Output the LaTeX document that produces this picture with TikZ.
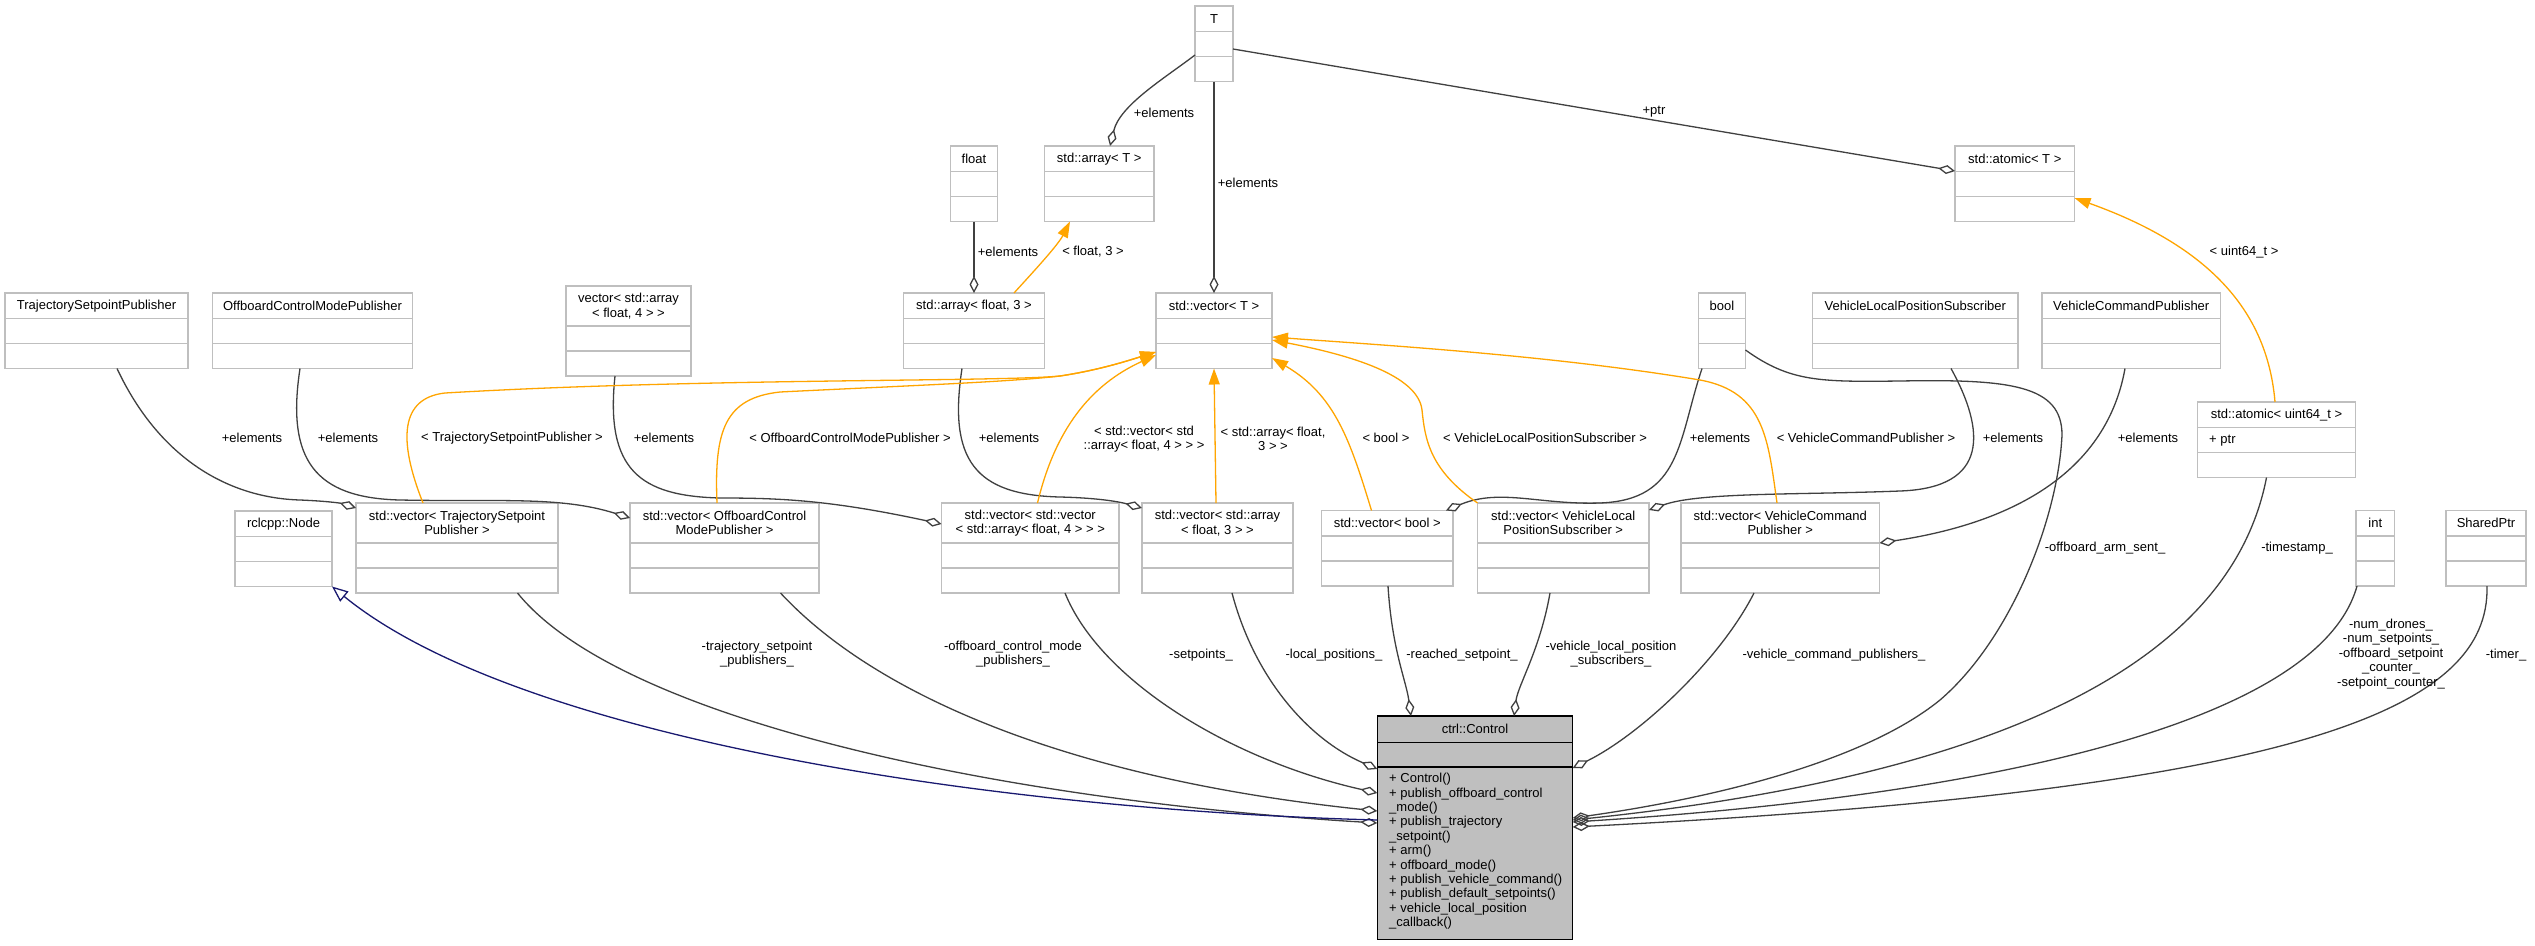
\documentclass[tikz,border=0pt]{standalone}
\usepackage{fontspec}
\setmainfont{Liberation Sans}
\usetikzlibrary{arrows.meta,fit,calc}
\definecolor{boxgray}{RGB}{191,191,191}
\definecolor{edgegray}{RGB}{64,64,64}
\definecolor{tmplorange}{RGB}{255,165,0}
\definecolor{inhblue}{RGB}{25,25,112}
\tikzset{
  clsbox/.style={draw=boxgray, line width=1.5pt, fill=white, inner sep=0pt, outer sep=0pt},
  clssep/.style={draw=boxgray, line width=1.5pt},
  clstext/.style={inner sep=0pt, align=center},
  lbl/.style={inner sep=0pt, align=center},
  agg/.style={draw=edgegray, line width=1.3pt, -{Diamond[open, length=17pt, width=9pt]}},
  tmpl/.style={draw=tmplorange, line width=1.3pt, -{Triangle[length=16pt, width=11pt]}},
  inh/.style={draw=inhblue, line width=1.3pt, -{Triangle[open, length=16pt, width=13pt]}},
}
% #1 name, #2 x1, #3 y1, #4 x2, #5 title row height, #6 title
\newcommand\umlcls[6]{%
  \node[clsbox, fit={(#2,#3) (#4,#3+#5+50)}] (#1) {};
  \draw[clssep] (#2,#3+#5) -- (#4,#3+#5);
  \draw[clssep] (#2,#3+#5+25) -- (#4,#3+#5+25);
  \node[clstext] (#1-title) at ({(#2+#4)/2},{#3+#5/2}) {#6};
}
\begin{document}
\begin{tikzpicture}[x=1pt,y=-1pt,every node/.append style={font=\fontsize{13}{14.4}\selectfont}]
\fill[white] (0,0) rectangle (2535,945);
\useasboundingbox (0,0) rectangle (2535,945);

% ---------- classes ----------
\umlcls{cT}{1195}{6}{1233}{25.5}{T}
\umlcls{cfloat}{950.5}{146}{997.5}{25.5}{float}
\umlcls{arrT}{1044.5}{146}{1154}{25.5}{std::array< T >}
\umlcls{atomT}{1955}{146}{2074.5}{25.5}{std::atomic< T >}
\umlcls{tsp}{5}{293}{188}{25.5}{TrajectorySetpointPublisher}
\umlcls{ocmp}{212.5}{293}{412.5}{25.5}{OffboardControlModePublisher}
\umlcls{varr4}{566}{286}{691}{40}{vector< std::array\\< float, 4 > >}
\umlcls{arr3}{903.5}{293}{1044.5}{25.5}{std::array< float, 3 >}
\umlcls{vecT}{1156}{293}{1272}{25.5}{std::vector< T >}
\umlcls{cbool}{1698.5}{293}{1745.5}{25.5}{bool}
\umlcls{vlps}{1812.5}{293}{2018}{25.5}{VehicleLocalPositionSubscriber}
\umlcls{vcp}{2042}{293}{2220.5}{25.5}{VehicleCommandPublisher}
\umlcls{atomU}{2197.5}{402}{2355.5}{25.5}{std::atomic< uint64\_t >}
\node[inner sep=0pt, anchor=west] (atomU-attr) at (2209,440.2) {+ ptr};
\umlcls{rclnode}{235}{511}{332}{25.5}{rclcpp::Node}
\umlcls{vtsp}{356}{503}{558}{40}{std::vector< TrajectorySetpoint\\Publisher >}
\umlcls{vocmp}{630}{503}{819}{40}{std::vector< OffboardControl\\ModePublisher >}
\umlcls{vvarr}{941.5}{503}{1119}{40}{std::vector< std::vector\\< std::array< float, 4 > > >}
\umlcls{varr3}{1142}{503}{1293}{40}{std::vector< std::array\\< float, 3 > >}
\umlcls{vbool}{1321.5}{510.5}{1453}{25.5}{std::vector< bool >}
\umlcls{vvlps}{1477.5}{503}{1649}{40}{std::vector< VehicleLocal\\PositionSubscriber >}
\umlcls{vvcp}{1681}{503}{1879.5}{40}{std::vector< VehicleCommand\\Publisher >}
\umlcls{cint}{2356}{510.5}{2394.5}{25.5}{int}
\umlcls{sptr}{2446}{510.5}{2526}{25.5}{SharedPtr}

% main class
\node[draw=black, fill=boxgray, line width=1.5pt, inner sep=0pt, outer sep=0pt,
      fit={(1377.3,716) (1572.7,939.3)}] (ctrl) {};
\draw[black, line width=1.5pt] (1377.3,742.3) -- (1572.7,742.3);
\draw[black, line width=1.5pt] (1377.3,767) -- (1572.7,767);
\node[inner sep=0pt] (ctrl-title) at (1475,729.2) {ctrl::Control};
\foreach \txt [count=\i] in {+ Control(), + publish\_offboard\_control, \_mode(),
  + publish\_trajectory, \_setpoint(), + arm(), + offboard\_mode(),
  + publish\_vehicle\_command(), + publish\_default\_setpoints(),
  + vehicle\_local\_position, \_callback()}
  \node[inner sep=0pt, anchor=west] (m\i) at (1389,{779.3+14.4*(\i-1)}) {\txt};

% ---------- aggregation edges (+elements) ----------
\draw[agg] (tsp.south -| 117,0) .. controls (160,460) and (230,498) .. (300,500)
  .. controls (325,501) and (340,503) .. (vtsp.west |- 0,508);
\draw[agg] (ocmp.south -| 300,0) .. controls (286,460) and (315,498) .. (400,500)
  .. controls (500,502) and (560,496) .. (vocmp.west |- 0,518);
\draw[agg] (varr4.south -| 615,0) .. controls (605,470) and (640,496) .. (720,498)
  .. controls (780,498) and (830,500) .. (vvarr.west |- 0,524);
\draw[agg] (cfloat.south) -- (arr3.north -| cfloat.south);
\draw[agg] (cT.west |- 0,55) .. controls (1165,78) and (1120,105) .. (arrT.north -| 1110,0);
\draw[agg] (cT.south) -- (vecT.north);
\draw[agg] (cT.east |- 0,49) -- (atomT.west |- 0,171);
\draw[agg] (arr3.south -| 962,0) .. controls (948,460) and (975,495) .. (1060,497)
  .. controls (1100,498) and (1120,502) .. (varr3.west |- 0,508);
\draw[agg] (cbool.south -| 1702,0) .. controls (1678,440) and (1682,500) .. (1600,503)
  .. controls (1540,505) and (1500,488) .. (vbool.north -| 1446,0);
\draw[agg] (vlps.south -| 1951,0) .. controls (1985,430) and (1990,488) .. (1900,491)
  .. controls (1800,495) and (1700,492) .. (vvlps.east |- 0,510);
\draw[agg] (vcp.south -| 2125,0) .. controls (2105,480) and (2000,525) .. (vvcp.east |- 0,543);

% ---------- members of ctrl::Control ----------
\draw[agg] (vtsp.south -| 517.5,0) .. controls (620,720) and (1000,800) .. (ctrl.west |- 0,823);
\draw[agg] (vocmp.south -| 780.5,0) .. controls (880,700) and (1080,780) .. (ctrl.west |- 0,811);
\draw[agg] (vvarr.south -| 1065,0) .. controls (1100,680) and (1230,760) .. (ctrl.west |- 0,793);
\draw[agg] (varr3.south -| 1232,0) .. controls (1255,680) and (1310,740) .. (ctrl.west |- 0,769);
\draw[agg] (vbool.south -| 1388,0) .. controls (1392,650) and (1406,680) .. (ctrl.north -| 1411,0);
\draw[agg] (vvlps.south -| 1550,0) .. controls (1540,650) and (1518,685) .. (ctrl.north -| 1514,0);
\draw[agg] (vvcp.south -| 1754,0) .. controls (1720,660) and (1640,735) .. (ctrl.east |- 0,768);
\draw[agg] (cbool.east |- 0,350) .. controls (1790,382) and (1820,382) .. (1900,381)
  .. controls (2010,379) and (2062,385) .. (2062,435)
  .. controls (2058,520) and (2010,640) .. (1940,700)
  .. controls (1860,765) and (1700,800) .. (ctrl.east |- 0,818);
\draw[agg] (atomU.south -| 2266.5,0) .. controls (2235,640) and (2050,770) .. (ctrl.east |- 0,820);
\draw[agg] (cint.south -| 2357,0) .. controls (2320,720) and (2000,795) .. (ctrl.east |- 0,822);
\draw[agg] (sptr.south -| 2487,0) .. controls (2490,710) and (2300,790) .. (ctrl.east |- 0,827);

% ---------- inheritance ----------
\draw[inh] (ctrl.west |- 0,820) .. controls (1000,810) and (520,740) .. (rclnode.south east);

% ---------- template instances ----------
\draw[tmpl] (vtsp.north -| 423,0) .. controls (398,440) and (400,398) .. (445,393)
  .. controls (700,378) and (1000,382) .. (1060,376)
  .. controls (1100,370) and (1130,360) .. (vecT.west |- 0,352);
\draw[tmpl] (vocmp.north -| 717,0) .. controls (714,430) and (725,398) .. (780,392)
  .. controls (900,386) and (1010,382) .. (1060,376)
  .. controls (1100,370) and (1130,360) .. (vecT.west |- 0,352);
\draw[tmpl] (vvarr.north -| 1037.5,0) .. controls (1055,430) and (1090,385) .. (vecT.west |- 0,355);
\draw[tmpl] (varr3.north -| 1216,0) -- (vecT.south -| 1214,0);
\draw[tmpl] (vbool.north -| 1371.5,0) .. controls (1350,440) and (1335,395) .. (vecT.east |- 0,358);
\draw[tmpl] (vvlps.north west) .. controls (1430,470) and (1425,440) .. (1422,410)
  .. controls (1418,375) and (1350,355) .. (vecT.east |- 0,340);
\draw[tmpl] (vvcp.north -| 1777,0) .. controls (1768,440) and (1765,392) .. (1700,380)
  .. controls (1550,355) and (1380,345) .. (vecT.east |- 0,337);
\draw[tmpl] (arr3.north -| 1014,0) .. controls (1035,270) and (1058,245) .. (arrT.south -| 1070,0);
\draw[tmpl] (atomU.north -| 2275,0) .. controls (2268,320) and (2220,250) .. (atomT.east |- 0,198);

% ---------- edge labels ----------
\node[lbl] (l1) at (252,438) {+elements};
\node[lbl] (l2) at (348,438) {+elements};
\node[lbl] (l3) at (512,438) {< TrajectorySetpointPublisher >};
\node[lbl] (l4) at (664,438) {+elements};
\node[lbl] (l5) at (850,438) {< OffboardControlModePublisher >};
\node[lbl] (l6) at (1009,438) {+elements};
\node[lbl] (l7) at (1144,439) {< std::vector< std\\::array< float, 4 > > >};
\node[lbl] (l8) at (1273,439) {< std::array< float,\\3 > >};
\node[lbl] (l9) at (1386,438) {< bool >};
\node[lbl] (l10) at (1545,438) {< VehicleLocalPositionSubscriber >};
\node[lbl] (l11) at (1720,438) {+elements};
\node[lbl] (l12) at (1866,438) {< VehicleCommandPublisher >};
\node[lbl] (l13) at (2013,438) {+elements};
\node[lbl] (l14) at (2148,438) {+elements};
\node[lbl] (l15) at (1008,252) {+elements};
\node[lbl] (l16) at (1093,252) {< float, 3 >};
\node[lbl] (l17) at (1164,113) {+elements};
\node[lbl] (l18) at (1248,183) {+elements};
\node[lbl] (l19) at (1654,112) {+ptr};
\node[lbl] (l20) at (2244,252) {< uint64\_t >};
\node[lbl] (l21) at (757,654) {-trajectory\_setpoint\\\_publishers\_};
\node[lbl] (l22) at (1013,654) {-offboard\_control\_mode\\\_publishers\_};
\node[lbl] (l23) at (1201,655) {-setpoints\_};
\node[lbl] (l24) at (1334,655) {-local\_positions\_};
\node[lbl] (l25) at (1462,655) {-reached\_setpoint\_};
\node[lbl] (l26) at (1611,654) {-vehicle\_local\_position\\\_subscribers\_};
\node[lbl] (l27) at (1834,655) {-vehicle\_command\_publishers\_};
\node[lbl] (l28) at (2105,548) {-offboard\_arm\_sent\_};
\node[lbl] (l29) at (2297,548) {-timestamp\_};
\node[lbl] (l30) at (2391,654) {-num\_drones\_\\-num\_setpoints\_\\-offboard\_setpoint\\\_counter\_\\-setpoint\_counter\_};
\node[lbl] (l31) at (2506,655) {-timer\_};
\end{tikzpicture}
\end{document}
